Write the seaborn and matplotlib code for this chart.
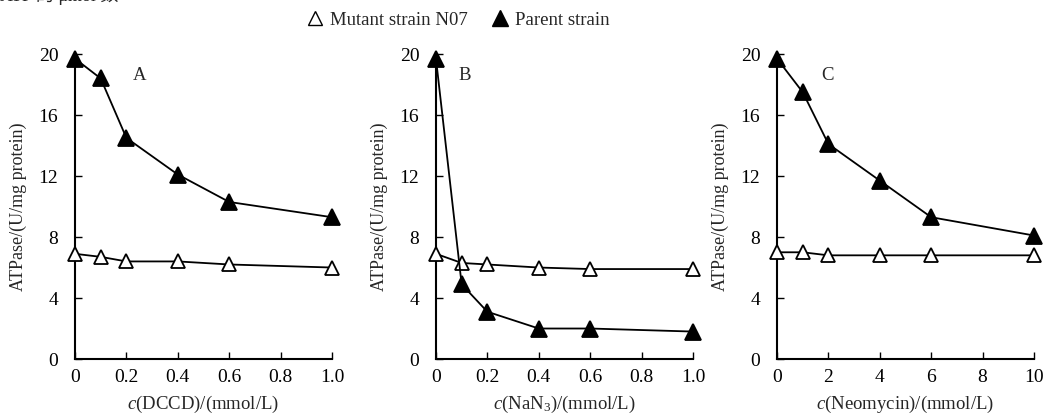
# plot.py
# ATPase activity of mutant vs parent strain under three inhibitors

import numpy as np
import pandas as pd
import matplotlib.pyplot as plt
from matplotlib.lines import Line2D
import seaborn as sns

# data
dccd_x = [0, 0.1, 0.2, 0.4, 0.6, 1.0]
dccd_mutant = [6.9, 6.7, 6.4, 6.4, 6.2, 6.0]
dccd_parent = [19.7, 18.4, 14.5, 12.1, 10.3, 9.3]

nan3_x = [0, 0.1, 0.2, 0.4, 0.6, 1.0]
nan3_mutant = [6.9, 6.3, 6.2, 6.0, 5.9, 5.9]
nan3_parent = [19.7, 4.9, 3.1, 2.0, 2.0, 1.8]

neo_x = [0, 1, 2, 4, 6, 10]
neo_mutant = [7.0, 7.0, 6.8, 6.8, 6.8, 6.8]
neo_parent = [19.7, 17.5, 14.1, 11.7, 9.3, 8.1]

panel_letters = ["A", "B", "C"]
x_labels = [r"$c$(DCCD)/(mmol/L)", r"$c$(NaN$_3$)/(mmol/L)", r"$c$(Neomycin)/(mmol/L)"]
x_ticks = [[0, 0.2, 0.4, 0.6, 0.8, 1.0], [0, 0.2, 0.4, 0.6, 0.8, 1.0], [0, 2, 4, 6, 8, 10]]
x_ticklabels = [["0", "0.2", "0.4", "0.6", "0.8", "1.0"],
                ["0", "0.2", "0.4", "0.6", "0.8", "1.0"],
                ["0", "2", "4", "6", "8", "10"]]
y_ticks = [0, 4, 8, 12, 16, 20]
strains = ["Mutant strain N07", "Parent strain"]

panels = [(dccd_x, dccd_mutant, dccd_parent),
          (nan3_x, nan3_mutant, nan3_parent),
          (neo_x, neo_mutant, neo_parent)]

sns.set_style("ticks")
plt.rcParams["font.family"] = ["Liberation Serif", "Noto Sans CJK SC", "DejaVu Sans"]
plt.rcParams["mathtext.fontset"] = "custom"
plt.rcParams["mathtext.rm"] = "Liberation Serif"
plt.rcParams["mathtext.it"] = "Liberation Serif:italic"

fig = plt.figure(figsize=(10.52, 4.16), dpi=100)
lefts = [0.0713, 0.4144, 0.7386]
styles = {strains[0]: ("white", 10), strains[1]: ("black", 12)}

for i, (xs, mut, par) in enumerate(panels):
    ax = fig.add_axes([lefts[i], 0.137, 0.2443, 0.733])
    df = pd.DataFrame({"x": xs * 2, "y": mut + par,
                       "strain": [strains[0]] * len(xs) + [strains[1]] * len(xs)})
    for s in strains:
        fc, ms = styles[s]
        sub = df[df["strain"] == s]
        sns.lineplot(data=sub, x="x", y="y", ax=ax, color="black", lw=1.3,
                     marker="^", markersize=ms, markerfacecolor=fc,
                     markeredgecolor="black", markeredgewidth=1.3,
                     clip_on=False, zorder=3, legend=False)
    ax.set_xlim(x_ticks[i][0], x_ticks[i][-1])
    ax.set_ylim(0, 20)
    ax.set_xticks(x_ticks[i])
    ax.set_xticklabels(x_ticklabels[i])
    ax.set_yticks(y_ticks)
    ax.tick_params(direction="in", length=5, width=1, labelsize=14, pad=7, colors="black")
    ax.tick_params(axis="y", pad=12)
    for sp in ["top", "right"]:
        ax.spines[sp].set_visible(False)
    for sp in ["left", "bottom"]:
        ax.spines[sp].set_linewidth(1.5)
        ax.spines[sp].set_color("black")
    ax.set_xlabel(x_labels[i], fontsize=13.5, labelpad=6)
    ax.set_ylabel("ATPase/(U/mg protein)", fontsize=13, labelpad=8)
    ax.text([0.253, 0.113, 0.195][i], 0.93, panel_letters[i], transform=ax.transAxes,
            fontsize=13.5, ha="center", va="center")

handles = [Line2D([], [], ls="none", marker="^", markersize=10, markerfacecolor="white",
                  markeredgecolor="black", markeredgewidth=1.0),
           Line2D([], [], ls="none", marker="^", markersize=11, markerfacecolor="black",
                  markeredgecolor="black")]
fig.legend(handles, strains, loc="center", bbox_to_anchor=(0.435, 0.952), ncol=2,
           frameon=False, fontsize=13.5, handletextpad=0.3, columnspacing=1.2,
           handlelength=1.0)

# partially cropped caption text at the very top edge
fig.text(0.0, 1.012, "ATP 的 μmol 数", fontsize=13, ha="left", va="center")

fig.savefig("out.png", dpi=100)
plt.close(fig)
